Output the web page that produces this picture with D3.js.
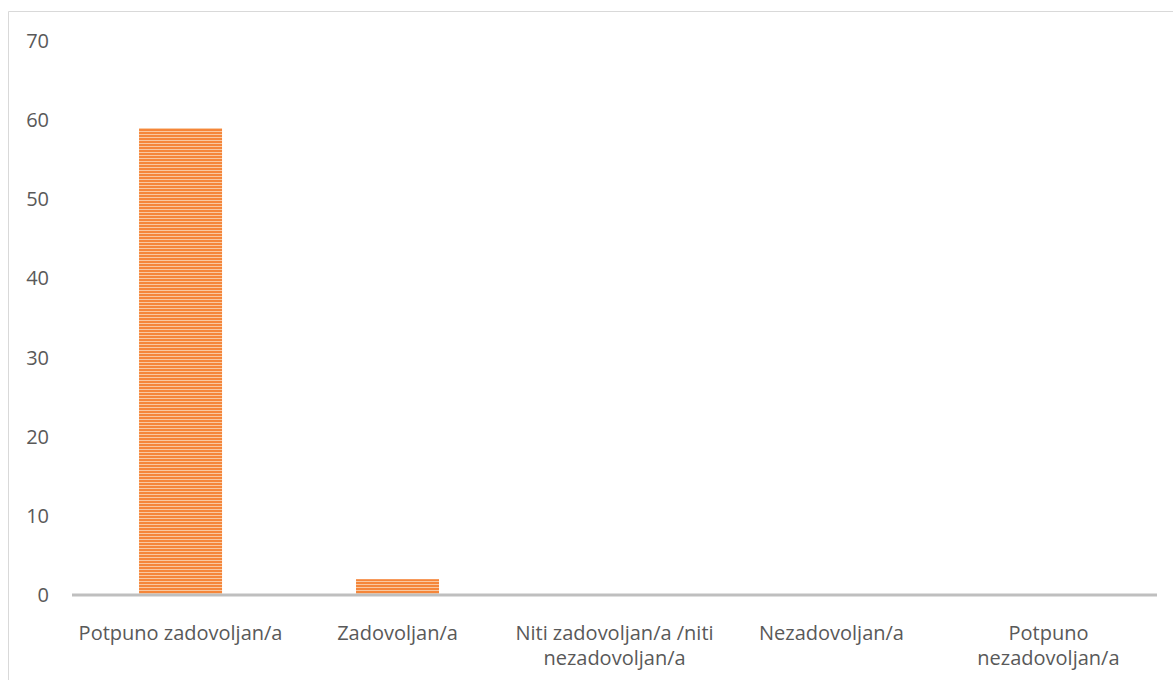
<!DOCTYPE html>
<html><head><meta charset="utf-8">
<script src="https://cdn.jsdelivr.net/npm/d3@7"></script>
<style>body{margin:0;background:#fff;}svg{display:block;}</style>
</head><body>
<svg id="c" width="1173" height="680"></svg>
<script>
const categories = [["Potpuno zadovoljan/a"],["Zadovoljan/a"],["Niti zadovoljan/a /niti","nezadovoljan/a"],["Nezadovoljan/a"],["Potpuno","nezadovoljan/a"]];
const values = [59, 2, 0, 0, 0];
const yTicks = [0,10,20,30,40,50,60,70];

const svg = d3.select("#c");
const W = 1173, H = 680;
const m = {left:72, right:16, top:41, bottom:85};
const x = d3.scaleBand().domain(d3.range(categories.length)).range([m.left, W - m.right]).paddingInner(0.6175).paddingOuter(0.309);
const y = d3.scaleLinear().domain([0,70]).range([H - m.bottom, m.top]);

// frame
svg.append("path").attr("d", `M8.5,${H} L8.5,11.5 L${W},11.5`).attr("fill","none").attr("stroke","#d9d9d9").attr("stroke-width",1);

const defs = svg.append("defs");
const pat = defs.append("pattern").attr("id","stripes").attr("patternUnits","userSpaceOnUse").attr("width",4).attr("height",3);
pat.append("rect").attr("width",4).attr("height",3).attr("fill","#f9c8a0");
pat.append("rect").attr("width",4).attr("height",2).attr("fill","#f5863a");

const font = "'Open Sans', 'Liberation Sans', sans-serif";
const fs = 20;

// y labels
svg.append("g").selectAll("text").data(yTicks).join("text")
  .attr("x", 49).attr("y", d => y(d)).attr("dy","0.35em")
  .attr("text-anchor","end").attr("font-family",font).attr("font-size",fs).attr("fill","#595959")
  .text(d => d);

// bars
svg.append("g").selectAll("rect").data(values).join("rect")
  .attr("x",(d,i)=>x(i)).attr("width",x.bandwidth())
  .attr("y",d=>y(d)).attr("height",d=>y(0)-y(d))
  .attr("fill","url(#stripes)");

// axis line
svg.append("line").attr("x1",m.left).attr("x2",W-m.right).attr("y1",y(0)).attr("y2",y(0))
  .attr("stroke","#bfbfbf").attr("stroke-width",3);

// category labels
const lab = svg.append("g").selectAll("text").data(categories).join("text")
  .attr("x",(d,i)=>x(i)+x.bandwidth()/2).attr("y",640)
  .attr("text-anchor","middle").attr("font-family",font).attr("font-size",fs).attr("fill","#595959");
lab.each(function(d,i){
  const t = d3.select(this);
  d.forEach((line,j)=>{
    t.append("tspan").attr("x",x(i)+x.bandwidth()/2).attr("dy", j===0?0:25).text(line);
  });
});
</script>
</body></html>
